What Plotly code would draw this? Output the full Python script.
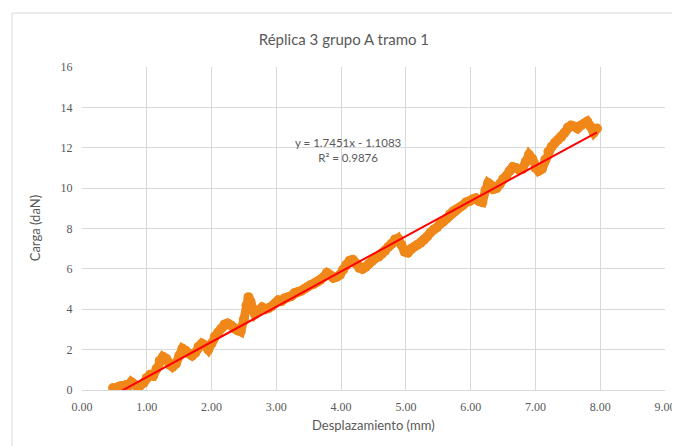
import plotly.graph_objs as go

# Desplazamiento (mm) and Carga (daN)
desplazamiento = [0.48, 0.52, 0.56, 0.60, 0.64, 0.68, 0.72, 0.76, 0.80, 0.84, 0.88, 0.95,
                  1.00, 1.05, 1.10, 1.15, 1.20, 1.25, 1.30, 1.35, 1.40, 1.45, 1.50, 1.55,
                  1.60, 1.65, 1.70, 1.75, 1.80, 1.85, 1.90, 1.95, 2.00, 2.05, 2.10, 2.15,
                  2.20, 2.25, 2.30, 2.35, 2.40, 2.45, 2.50, 2.54, 2.57, 2.60, 2.63, 2.67,
                  2.72, 2.78, 2.83, 2.88, 2.93, 2.98, 3.03, 3.08, 3.13, 3.18, 3.23, 3.28,
                  3.33, 3.38, 3.43, 3.48, 3.53, 3.58, 3.63, 3.68, 3.73, 3.78, 3.83, 3.88,
                  3.93, 3.98, 4.03, 4.08, 4.13, 4.18, 4.23, 4.28, 4.33, 4.38, 4.43, 4.48,
                  4.53, 4.58, 4.63, 4.68, 4.73, 4.78, 4.83, 4.88, 4.93, 4.98, 5.03, 5.08,
                  5.13, 5.18, 5.23, 5.28, 5.33, 5.38, 5.43, 5.48, 5.53, 5.58, 5.63, 5.68,
                  5.73, 5.78, 5.83, 5.88, 5.93, 5.98, 6.03, 6.08, 6.13, 6.18, 6.23, 6.27,
                  6.31, 6.35, 6.40, 6.45, 6.50, 6.55, 6.60, 6.65, 6.70, 6.75, 6.80, 6.85,
                  6.90, 6.95, 7.00, 7.05, 7.10, 7.15, 7.20, 7.25, 7.30, 7.35, 7.40, 7.45,
                  7.50, 7.55, 7.60, 7.65, 7.70, 7.75, 7.80, 7.85, 7.90, 7.95]
carga = [0.10, 0.05, 0.15, 0.20, 0.15, 0.25, 0.20, 0.40, 0.30, 0.20, 0.15, 0.35,
         0.60, 0.75, 0.70, 1.05, 1.45, 1.65, 1.55, 1.25, 1.15, 1.30, 1.70, 2.05,
         1.95, 1.80, 1.70, 1.85, 2.15, 2.30, 2.20, 2.00, 2.30, 2.65, 2.85, 3.05,
         3.25, 3.30, 3.20, 3.05, 2.95, 2.90, 3.50, 4.20, 4.60, 4.40, 3.95, 3.75,
         3.90, 4.10, 4.00, 4.05, 4.15, 4.30, 4.45, 4.40, 4.55, 4.60, 4.65, 4.80,
         4.85, 4.90, 5.00, 5.10, 5.20, 5.25, 5.35, 5.45, 5.60, 5.80, 5.70, 5.55,
         5.60, 5.70, 5.95, 6.20, 6.40, 6.45, 6.25, 6.05, 6.00, 6.10, 6.25, 6.40,
         6.55, 6.60, 6.75, 6.90, 7.10, 7.25, 7.45, 7.50, 7.20, 6.85, 6.80, 7.00,
         7.10, 7.20, 7.30, 7.45, 7.60, 7.80, 7.95, 8.05, 8.25, 8.35, 8.50, 8.70,
         8.85, 8.95, 9.05, 9.15, 9.30, 9.35, 9.45, 9.50, 9.35, 9.30, 9.90, 10.25,
         10.15, 9.95, 10.00, 10.20, 10.45, 10.60, 10.85, 11.05, 11.00, 10.90, 10.95, 11.30,
         11.65, 11.45, 11.00, 10.85, 10.95, 11.40, 11.80, 12.05, 12.25, 12.40, 12.55, 12.75,
         13.00, 13.10, 13.05, 12.95, 13.10, 13.20, 13.30, 13.05, 12.75, 12.95]

# linear trendline as reported on the chart
pendiente = 1.7451
ordenada = -1.1083
r2 = 0.9876

grey = '#595959'
x_trend = [min(desplazamiento), max(desplazamiento)]
y_trend = [pendiente * x + ordenada for x in x_trend]

fig = go.Figure()
fig.add_trace(go.Scatter(x=desplazamiento, y=carga, mode='lines+markers',
                         line=dict(color='#F08719', width=9),
                         marker=dict(color='#F08719', size=10),
                         showlegend=False))
fig.add_trace(go.Scatter(x=x_trend, y=y_trend, mode='lines',
                         line=dict(color='#FF0000', width=2),
                         showlegend=False))

fig.add_annotation(x=4.12, y=11.9, xref='x', yref='y', showarrow=False,
                   text='y = 1.7451x - 1.1083<br>R² = %.4f' % r2,
                   font=dict(family='Lato', size=11.5, color=grey))

# axis titles as annotations so the plot area stays put
fig.add_annotation(x=0.5, y=-0.108, xref='paper', yref='paper', showarrow=False,
                   text='Desplazamiento (mm)', yanchor='middle',
                   font=dict(family='Lato', size=13, color=grey))
fig.add_annotation(x=-0.081, y=0.5, xref='paper', yref='paper', showarrow=False,
                   text='Carga (daN)', textangle=-90, xanchor='center',
                   font=dict(family='Lato', size=13, color=grey))

# chart area border
fig.add_shape(type='rect', xref='paper', yref='paper',
              x0=-0.12, x1=1.05, y0=-0.3, y1=1.167,
              line=dict(color='#D9D9D9', width=1), layer='below')

fig.update_layout(
    width=680, height=446,
    margin=dict(l=74, r=23, t=59, b=64),
    paper_bgcolor='white', plot_bgcolor='white',
    title=dict(text='Réplica 3 grupo A tramo 1', x=0.494, xanchor='center',
               y=0.928, yanchor='middle',
               font=dict(family='Lato', size=15, color=grey)),
    xaxis=dict(range=[0, 9], dtick=1, tickformat='.2f', automargin=False,
               showgrid=True, gridcolor='#D9D9D9', zeroline=False,
               showline=True, linecolor='#D9D9D9',
               ticks='outside', ticklen=6, tickcolor='rgba(0,0,0,0)',
               tickfont=dict(family='Liberation Serif, serif', size=12, color=grey)),
    yaxis=dict(range=[0, 16], dtick=2, automargin=False,
               showgrid=True, gridcolor='#D9D9D9', zeroline=False,
               showline=False,
               ticks='outside', ticklen=6, tickcolor='rgba(0,0,0,0)',
               tickfont=dict(family='Liberation Serif, serif', size=12, color=grey)),
)

fig.write_html("out.html")
